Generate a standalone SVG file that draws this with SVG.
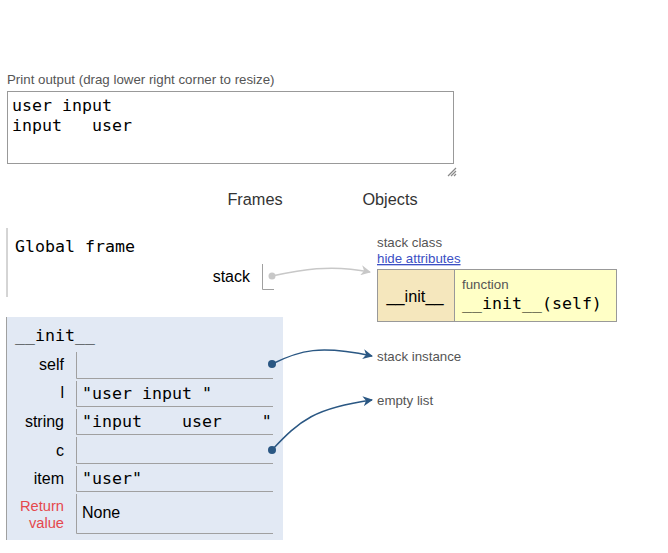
<svg xmlns="http://www.w3.org/2000/svg" width="668" height="553" viewBox="0 0 668 553">
<style>
.sans{font-family:"Liberation Sans",Arial,sans-serif}
.mono{font-family:"DejaVu Sans Mono","Liberation Mono",monospace}
.lbl{font-family:"Liberation Sans",Arial,sans-serif;font-size:16px;fill:#000;text-anchor:end}
.val{font-family:"DejaVu Sans Mono",monospace;font-size:16.6px;fill:#000}
.cell{fill:none;stroke:#a0a0a0;stroke-width:1}
.grey{fill:#555;font-size:13.3px}
.ret{font-family:"Liberation Sans",Arial,sans-serif;font-size:14.7px;fill:#e5484d;text-anchor:end}
</style>
<defs>
<marker id="ab" viewBox="0 0 10 10" refX="9" refY="5" markerWidth="10" markerHeight="10" markerUnits="userSpaceOnUse" orient="auto"><path d="M0,0 L10,5 L0,10 L3,5 Z" fill="#2a5783"/></marker>
<marker id="ag" viewBox="0 0 10 10" refX="9" refY="5" markerWidth="10" markerHeight="10" markerUnits="userSpaceOnUse" orient="auto"><path d="M0,0 L10,5 L0,10 L3,5 Z" fill="#c8c8c8"/></marker>
</defs>
<rect width="668" height="553" fill="#fff"/>
<g id="print-output">
<text x="7" y="84" class="sans grey">Print output (drag lower right corner to resize)</text>
<rect x="7.5" y="91.5" width="446" height="72" fill="#fff" stroke="#999"/>
<text x="12" y="111" class="val">user input</text>
<text x="12" y="131" class="val" xml:space="preserve">input   user</text>
<path d="M448,176 L456,168 M451,176 L456,171 M454,176 L456,174" stroke="#888" stroke-width="1.2"/>
</g>
<g id="headers" class="sans" font-size="16.3" fill="#333">
<text x="255" y="205" text-anchor="middle">Frames</text>
<text x="390" y="205" text-anchor="middle">Objects</text>
</g>
<g id="global-frame">
<line x1="7" y1="228" x2="7" y2="297" stroke="#aaa"/>
<text x="15" y="252" class="val">Global frame</text>
<text x="250" y="282" class="lbl">stack</text>
<path d="M262.5,264 V289.5 H274" fill="none" stroke="#a0a0a0"/>
<circle cx="272" cy="276" r="3.5" fill="#c8c8c8"/>
</g>
<g id="init-frame">
<rect x="7" y="317" width="276" height="223" fill="#e2e9f4"/>
<line x1="6.5" y1="317" x2="6.5" y2="540" stroke="#a0a0a0"/>
<text x="15" y="341" class="val">__init__</text>
<text x="64" y="370" class="lbl">self</text>
<path d="M76.5,352 V378.5 H273" class="cell"/>
<text x="64" y="398" class="lbl">l</text>
<path d="M76.5,381 V406.5 H273" class="cell"/>
<text x="82" y="399" class="val" xml:space="preserve">"user input "</text>
<text x="64" y="427" class="lbl">string</text>
<path d="M76.5,409 V434.5 H273" class="cell"/>
<text x="82" y="427" class="val" xml:space="preserve">"input    user    "</text>
<text x="64" y="456" class="lbl">c</text>
<path d="M76.5,437 V463.5 H273" class="cell"/>
<text x="64" y="484" class="lbl">item</text>
<path d="M76.5,466 V491.5 H273" class="cell"/>
<text x="82" y="484" class="val">"user"</text>
<text x="64" y="511" class="ret">Return</text>
<text x="64" y="528" class="ret">value</text>
<path d="M76.5,494 V533.5 H273" class="cell"/>
<text x="82" y="518" class="sans" font-size="16">None</text>
<circle cx="272" cy="364" r="4" fill="#2a5783"/>
<circle cx="272" cy="450" r="4" fill="#2a5783"/>
</g>
<g id="stack-class">
<text x="377" y="247" class="sans grey">stack class</text>
<text x="377" y="263" class="sans" font-size="13.3" fill="#3b4fc4" text-decoration="underline">hide attributes</text>
<rect x="377.5" y="269.5" width="77" height="52" fill="#f5e7bd" stroke="#999"/>
<rect x="454.5" y="269.5" width="162" height="52" fill="#ffffc6" stroke="#999"/>
<text x="415" y="302" class="sans" font-size="16.3" text-anchor="middle">__init__</text>
<text x="462" y="289" class="sans grey">function</text>
<text x="462" y="309" class="val">__init__(self)</text>
</g>
<g id="stack-instance">
<text x="377" y="361" class="sans grey">stack instance</text>
</g>
<g id="empty-list">
<text x="377" y="405" class="sans grey">empty list</text>
</g>
<g id="connectors" fill="none" stroke-width="1.5">
<path d="M272,276 C300,270 330,264 370,272" stroke="#c8c8c8" marker-end="url(#ag)"/>
<path d="M272,364 C300,350 320,345 372,356" stroke="#2a5783" marker-end="url(#ab)"/>
<path d="M272,450 C300,420 315,408 372,400" stroke="#2a5783" marker-end="url(#ab)"/>
</g>
</svg>
